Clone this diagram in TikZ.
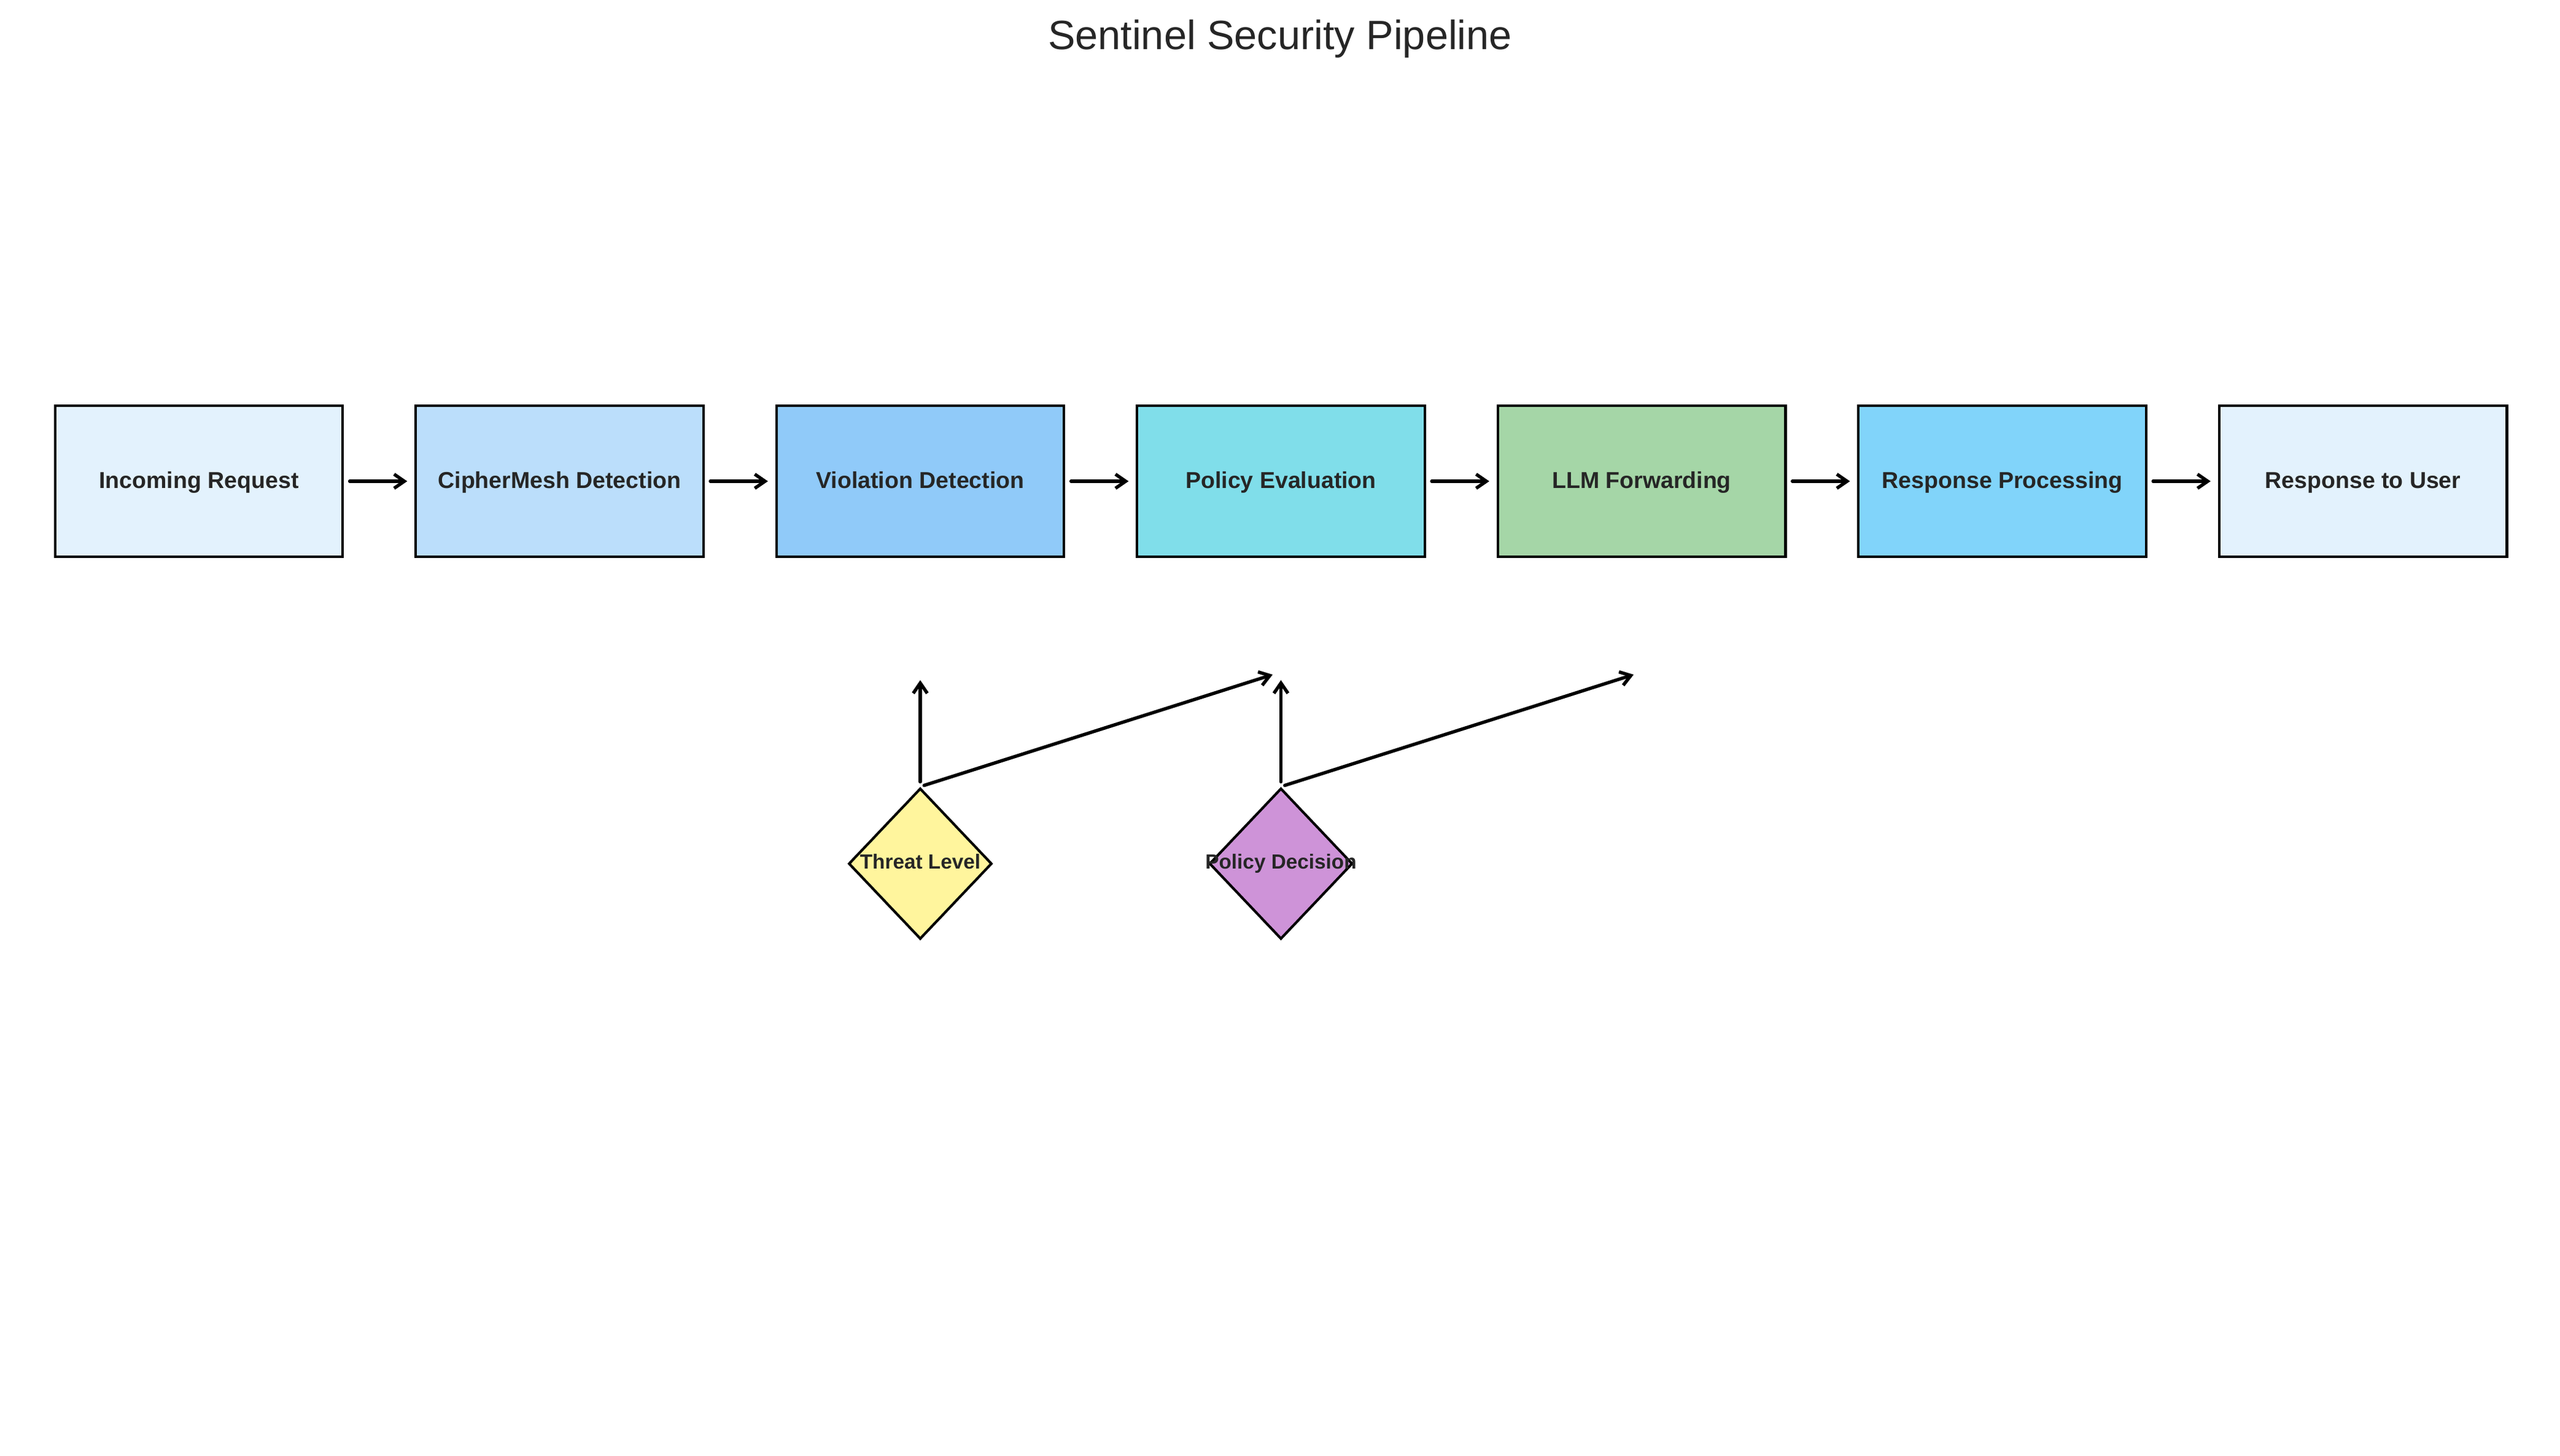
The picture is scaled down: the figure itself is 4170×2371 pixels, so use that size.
\documentclass[tikz,border=0pt]{standalone}
\usepackage{fontspec}
\setmainfont{Liberation Sans}
\usetikzlibrary{arrows.meta,shapes.geometric}
\definecolor{txt}{HTML}{262626}
\definecolor{cA}{HTML}{E3F2FD}
\definecolor{cB}{HTML}{BBDEFB}
\definecolor{cC}{HTML}{90CAF9}
\definecolor{cD}{HTML}{80DEEA}
\definecolor{cE}{HTML}{A5D6A7}
\definecolor{cF}{HTML}{81D4FA}
\definecolor{cY}{HTML}{FFF59D}
\definecolor{cP}{HTML}{CE93D8}
\begin{document}
\begin{tikzpicture}[x=0.24pt,y=-0.24pt,
  stagebox/.style={draw=black, line width=1pt, minimum width=112.5pt, minimum height=59pt, inner sep=0pt, text=txt, text height=7pt, text depth=1.7pt, font=\bfseries\fontsize{9}{11}\selectfont},
  decbox/.style={diamond, draw=black, line width=1pt, minimum width=56pt, minimum height=59pt, inner sep=0pt},
  declabel/.style={text=txt, inner sep=0pt, text height=6.1pt, text depth=1.8pt, font=\bfseries\fontsize{8}{10}\selectfont},
  flow/.style={-{Straight Barb[length=4pt,width=5.5pt]}, line width=1.3pt, line cap=round, line join=round}]
\useasboundingbox (0,0) rectangle (4170,2371);
\node[text=txt, font=\fontsize{16}{19}\selectfont, anchor=base] (title) at (2085,80) {Sentinel Security Pipeline};
\node[stagebox, fill=cA] (b1) at (324,784) {Incoming Request};
\node[stagebox, fill=cB] (b2) at (911.5,784) {CipherMesh Detection};
\node[stagebox, fill=cC] (b3) at (1499,784) {Violation Detection};
\node[stagebox, fill=cD] (b4) at (2086.5,784) {Policy Evaluation};
\node[stagebox, fill=cE] (b5) at (2674,784) {LLM Forwarding};
\node[stagebox, fill=cF] (b6) at (3261.5,784) {Response Processing};
\node[stagebox, fill=cA] (b7) at (3849,784) {Response to User};
\foreach \a/\b in {b1/b2,b2/b3,b3/b4,b4/b5,b5/b6,b6/b7}
  \draw[flow, shorten <=2.2pt, shorten >=2.8pt] (\a.east) -- (\b.west);
\node[decbox, fill=cY, label={[declabel]center:Threat Level}] (d1) at (1499,1407) {};
\node[decbox, fill=cP, label={[declabel]center:Policy Decision}] (d2) at (2086.5,1407) {};
\coordinate (u1) at (1499,1108);
\coordinate (u2) at (2086.5,1108);
\coordinate (g1) at (2073,1099);
\coordinate (g2) at (2661,1099);
\draw[flow, shorten <=2pt] (d1.north) -- (u1);
\draw[flow, shorten <=2pt] (d2.north) -- (u2);
\draw[flow] ([xshift=1.5pt,yshift=0.6pt]d1.north) -- (g1);
\draw[flow] ([xshift=1.5pt,yshift=0.6pt]d2.north) -- (g2);
\end{tikzpicture}
\end{document}
